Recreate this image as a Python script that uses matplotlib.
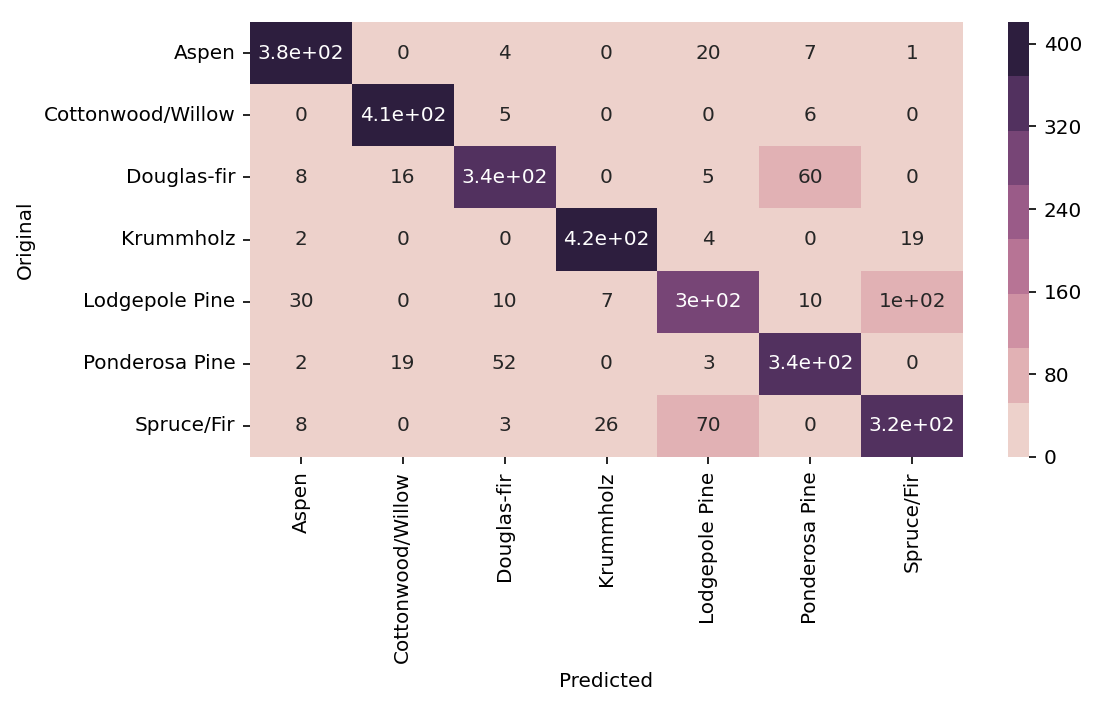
import matplotlib
matplotlib.use('Agg')
import matplotlib.pyplot as plt
import numpy as np
import seaborn as sns

classes = ['Aspen', 'Cottonwood/Willow', 'Douglas-fir', 'Krummholz',
           'Lodgepole Pine', 'Ponderosa Pine', 'Spruce/Fir']

# rows = original, columns = predicted
row_aspen = [381, 0, 4, 0, 20, 7, 1]
row_cottonwood = [0, 410, 5, 0, 0, 6, 0]
row_douglas = [8, 16, 340, 0, 5, 60, 0]
row_krummholz = [2, 0, 0, 421, 4, 0, 19]
row_lodgepole = [30, 0, 10, 7, 300, 10, 100]
row_ponderosa = [2, 19, 52, 0, 3, 344, 0]
row_spruce = [8, 0, 3, 26, 70, 0, 320]

conf = np.array([row_aspen, row_cottonwood, row_douglas, row_krummholz,
                 row_lodgepole, row_ponderosa, row_spruce])

plt.rcParams['font.size'] = 9.6
plt.rcParams['xtick.labelsize'] = 9.6
plt.rcParams['ytick.labelsize'] = 9.6
plt.rcParams['axes.labelsize'] = 9.6

fig = plt.figure(figsize=(1098 / 150, 708 / 150), dpi=150)
ax = fig.add_axes([250 / 1098, 1 - 457 / 708, (963 - 250) / 1098, (457 - 22) / 708])
cax = fig.add_axes([1008 / 1098, 1 - 457 / 708, 21 / 1098, (457 - 22) / 708])

sns.heatmap(conf, annot=True, cmap=sns.cubehelix_palette(8), ax=ax, cbar_ax=cax,
            xticklabels=classes, yticklabels=classes)
ax.set_xticklabels(classes, rotation=90)
ax.set_yticklabels(classes, rotation=0)
ax.set_xlabel('Predicted')
ax.set_ylabel('Original')
cax.yaxis.set_major_locator(matplotlib.ticker.MultipleLocator(80))

fig.savefig('out.png', dpi=150)
